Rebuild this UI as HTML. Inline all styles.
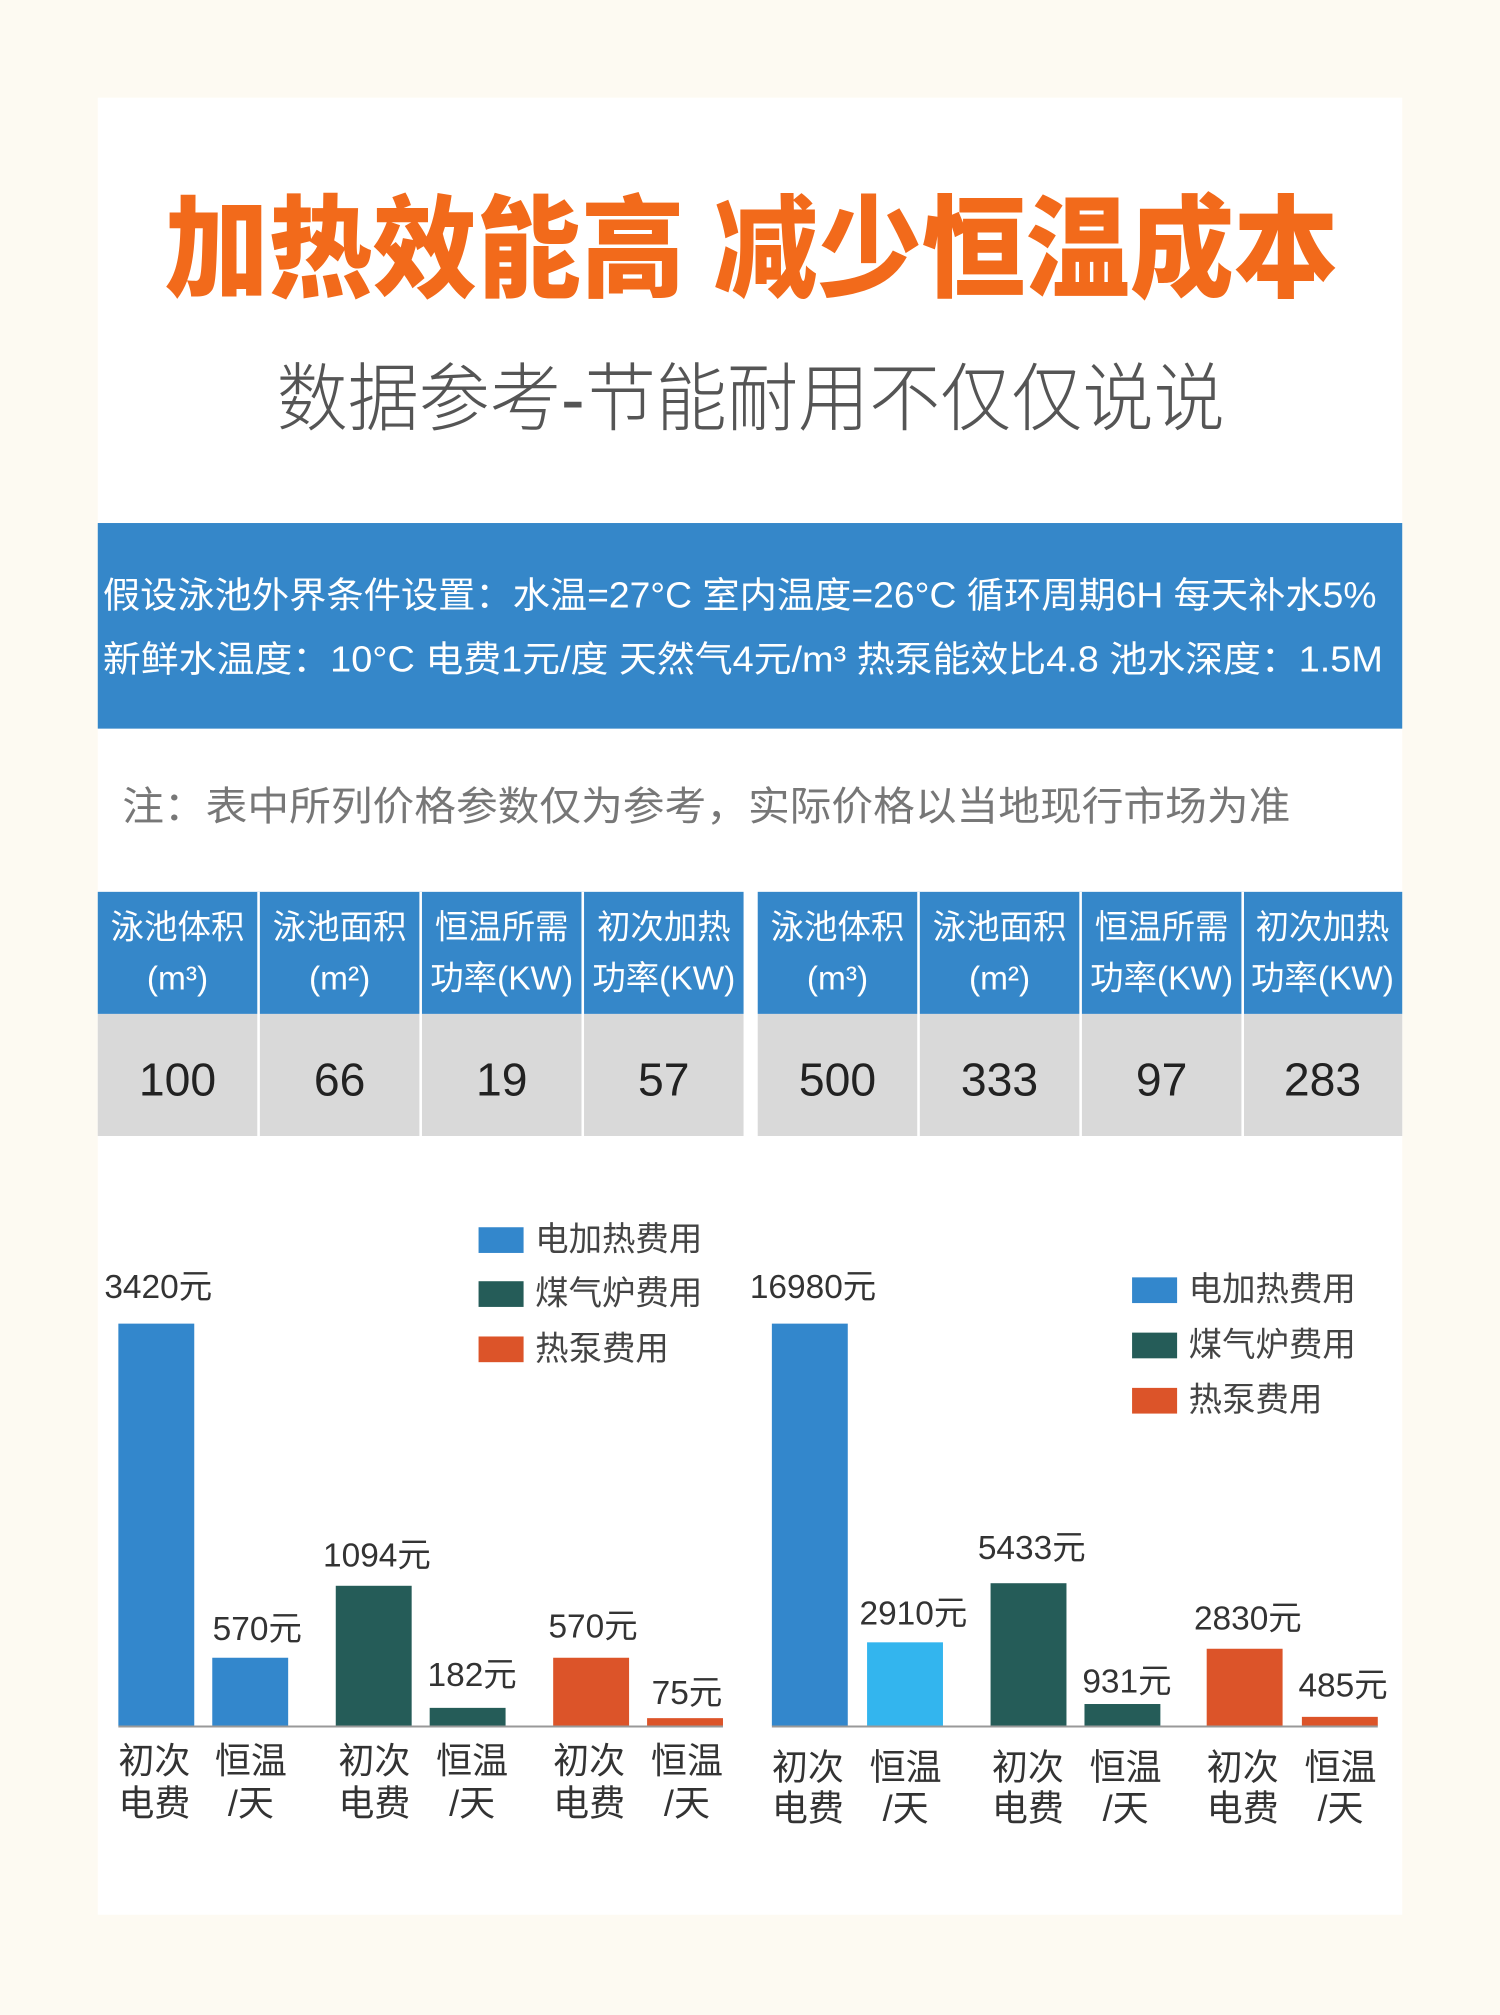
<!DOCTYPE html>
<html><head><meta charset="utf-8"><style>
html,body{margin:0;padding:0;background:#fdfaf2;}
svg{display:block;}
text{font-family:"Liberation Sans","Noto Sans CJK SC",sans-serif;}
</style></head><body>
<svg width="1500" height="2015" viewBox="0 0 1166 1568" preserveAspectRatio="none" xmlns="http://www.w3.org/2000/svg">
<rect x="0" y="0" width="1166" height="1568" fill="#fdfaf2"/>
<rect x="76" y="76" width="1014" height="1414" fill="#ffffff"/>
<text x="128" y="195" dominant-baseline="central" font-size="86" font-weight="900" fill="#f26a1b" textLength="912" lengthAdjust="spacingAndGlyphs">加热效能高 减少恒温成本</text>
<text x="215" y="310" dominant-baseline="central" font-size="58" font-weight="300" fill="#555" textLength="737" lengthAdjust="spacingAndGlyphs">数据参考-节能耐用不仅仅说说</text>
<rect x="76" y="407" width="1014" height="160" fill="#3587c9"/>
<text x="80" y="463" dominant-baseline="central" font-size="28" fill="#fff" textLength="990" lengthAdjust="spacingAndGlyphs">假设泳池外界条件设置：水温=27°C  室内温度=26°C   循环周期6H   每天补水5%</text>
<text x="80" y="513" dominant-baseline="central" font-size="28" fill="#fff" textLength="995" lengthAdjust="spacingAndGlyphs">新鲜水温度：10°C  电费1元/度   天然气4元/m³   热泵能效比4.8  池水深度：1.5M</text>
<text x="95" y="628" dominant-baseline="central" font-size="31" fill="#777" textLength="908" lengthAdjust="spacingAndGlyphs">注：表中所列价格参数仅为参考，实际价格以当地现行市场为准</text>
<g>
<rect x="76" y="694" width="502" height="95" fill="#3587c9"/>
<rect x="589" y="694" width="501" height="95" fill="#3587c9"/>
<rect x="76" y="789" width="502" height="95" fill="#d9d9d9"/>
<rect x="589" y="789" width="501" height="95" fill="#d9d9d9"/>
<g stroke="#ffffff" stroke-width="2">
<line x1="201" y1="694" x2="201" y2="884"/><line x1="327" y1="694" x2="327" y2="884"/><line x1="453" y1="694" x2="453" y2="884"/>
<line x1="714" y1="694" x2="714" y2="884"/><line x1="840" y1="694" x2="840" y2="884"/><line x1="966" y1="694" x2="966" y2="884"/>
</g>
<g font-size="26" fill="#fff" text-anchor="middle" dominant-baseline="central">
<text x="138" y="722">泳池体积</text><text x="138" y="762">(m³)</text>
<text x="264" y="722">泳池面积</text><text x="264" y="762">(m²)</text>
<text x="390" y="722">恒温所需</text><text x="390" y="762">功率(KW)</text>
<text x="516" y="722">初次加热</text><text x="516" y="762">功率(KW)</text>
<text x="651" y="722">泳池体积</text><text x="651" y="762">(m³)</text>
<text x="777" y="722">泳池面积</text><text x="777" y="762">(m²)</text>
<text x="903" y="722">恒温所需</text><text x="903" y="762">功率(KW)</text>
<text x="1028" y="722">初次加热</text><text x="1028" y="762">功率(KW)</text>
</g>
<g font-size="36" fill="#222" text-anchor="middle" dominant-baseline="central">
<text x="138" y="840">100</text><text x="264" y="840">66</text><text x="390" y="840">19</text><text x="516" y="840">57</text>
<text x="651" y="840">500</text><text x="777" y="840">333</text><text x="903" y="840">97</text><text x="1028" y="840">283</text>
</g>
</g>
<!-- left chart -->
<rect x="92" y="1030" width="59" height="313" fill="#3387cc"/>
<rect x="165" y="1290" width="59" height="53" fill="#3387cc"/>
<rect x="261" y="1234" width="59" height="109" fill="#255c58"/>
<rect x="334" y="1329" width="59" height="14" fill="#255c58"/>
<rect x="430" y="1290" width="59" height="53" fill="#dc5429"/>
<rect x="503" y="1337" width="59" height="6" fill="#dc5429"/>
<line x1="92" y1="1343.5" x2="562" y2="1343.5" stroke="#999" stroke-width="1.5"/>
<!-- right chart -->
<rect x="600" y="1030" width="59" height="313" fill="#3387cc"/>
<rect x="674" y="1278" width="59" height="65" fill="#33b5ee"/>
<rect x="770" y="1232" width="59" height="111" fill="#255c58"/>
<rect x="843" y="1326" width="59" height="17" fill="#255c58"/>
<rect x="938" y="1283" width="59" height="60" fill="#dc5429"/>
<rect x="1012" y="1336" width="59" height="7" fill="#dc5429"/>
<line x1="600" y1="1343.5" x2="1071" y2="1343.5" stroke="#999" stroke-width="1.5"/>
<g font-size="26" fill="#333" text-anchor="middle" dominant-baseline="central">
<text x="123" y="1002">3420元</text><text x="200" y="1268">570元</text><text x="293" y="1211">1094元</text>
<text x="367" y="1304">182元</text><text x="461" y="1266">570元</text><text x="534" y="1318">75元</text>
<text x="632" y="1002">16980元</text><text x="710" y="1256">2910元</text><text x="802" y="1205">5433元</text>
<text x="876" y="1309">931元</text><text x="970" y="1260">2830元</text><text x="1044" y="1312">485元</text>
</g>
<g font-size="28" fill="#333" text-anchor="middle" dominant-baseline="central">
<text x="120" y="1370">初次</text><text x="120" y="1403">电费</text>
<text x="195" y="1370">恒温</text><text x="195" y="1403">/天</text>
<text x="291" y="1370">初次</text><text x="291" y="1403">电费</text>
<text x="367" y="1370">恒温</text><text x="367" y="1403">/天</text>
<text x="458" y="1370">初次</text><text x="458" y="1403">电费</text>
<text x="534" y="1370">恒温</text><text x="534" y="1403">/天</text>
<text x="628" y="1375">初次</text><text x="628" y="1407">电费</text>
<text x="704" y="1375">恒温</text><text x="704" y="1407">/天</text>
<text x="799" y="1375">初次</text><text x="799" y="1407">电费</text>
<text x="875" y="1375">恒温</text><text x="875" y="1407">/天</text>
<text x="966" y="1375">初次</text><text x="966" y="1407">电费</text>
<text x="1042" y="1375">恒温</text><text x="1042" y="1407">/天</text>
</g>
<!-- legends -->
<rect x="372" y="955" width="35" height="20" fill="#3387cc"/>
<rect x="372" y="997" width="35" height="20" fill="#255c58"/>
<rect x="372" y="1040" width="35" height="20" fill="#dc5429"/>
<rect x="880" y="994" width="35" height="20" fill="#3387cc"/>
<rect x="880" y="1037" width="35" height="20" fill="#255c58"/>
<rect x="880" y="1080" width="35" height="20" fill="#dc5429"/>
<g font-size="26" fill="#444" dominant-baseline="central">
<text x="416" y="965">电加热费用</text><text x="416" y="1007">煤气炉费用</text><text x="416" y="1050">热泵费用</text>
<text x="924" y="1004">电加热费用</text><text x="924" y="1047">煤气炉费用</text><text x="924" y="1090">热泵费用</text>
</g>
</svg>
</body></html>
